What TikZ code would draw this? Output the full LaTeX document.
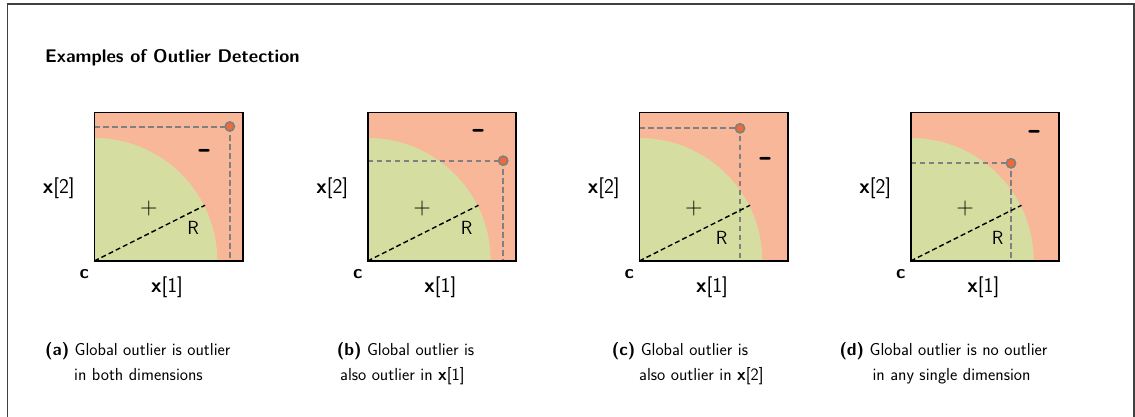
\documentclass[tikz,border=0pt]{standalone}
\usepackage{fontspec}
\renewcommand{\familydefault}{\sfdefault}
\definecolor{outred}{RGB}{249,183,153}
\definecolor{ingreen}{RGB}{213,222,160}
\definecolor{ptorange}{RGB}{240,105,55}
\definecolor{dashgray}{RGB}{128,128,128}
\tikzset{
  frameline/.style={draw=black!75,line width=1.1pt},
  panelbox/.style={draw=black,line width=1.6pt},
  guide/.style={draw=dashgray,line width=2pt,dash pattern=on 5.5pt off 3.5pt},
  radline/.style={draw=black,line width=1.4pt,dash pattern=on 5pt off 3pt},
  outpt/.style={circle,fill=ptorange,draw=dashgray,line width=1.5pt,inner sep=0pt,minimum size=9pt},
  axlab/.style={font=\fontsize{21}{24}\selectfont,inner sep=0pt},
  clab/.style={font=\fontsize{19}{22}\selectfont\bfseries,inner sep=0pt},
  pluslab/.style={font=\fontsize{24}{26}\selectfont,inner sep=0pt},
  rlab/.style={font=\fontsize{19}{22}\selectfont,inner sep=0pt},
  minuslab/.style={font=\fontsize{38}{38}\selectfont\bfseries,inner sep=0pt},
  captxt/.style={font=\fontsize{17.4}{20}\selectfont,inner sep=0pt,anchor=base west},
  titletxt/.style={font=\fontsize{18.3}{22}\selectfont\bfseries,inner sep=0pt,anchor=base west}
}
% #1 suffix, #2 x0, #3 px, #4 py, #5 minus x, #6 minus y, #7 R x, #8 R y
\newcommand{\outlierpanel}[8]{%
\begin{scope}[shift={(#2,155)}]
  \fill[outred] (0,0) rectangle (148.5,148.5);
  \fill[ingreen] (0,0) -- (123,0) arc[start angle=0,end angle=90,radius=123pt] -- cycle;
  \coordinate (corner#1) at (0,0);
  \coordinate (rend#1) at (26.7:124pt);
  \coordinate (hstart#1) at (0,#4);
  \coordinate (vend#1) at (#3,0);
  \node[outpt] (pt#1) at (#3,#4) {};
  \draw[guide] (hstart#1) -- (pt#1.center) -- (vend#1);
  \node[outpt] at (pt#1) {};
  \draw[radline] (corner#1) -- (rend#1);
  \draw[panelbox] (0,0) rectangle (148.5,148.5);
  \node[minuslab] (minus#1) at (#5,#6) {-};
  \node[pluslab] (plus#1) at (54.5,52) {+};
  \node[rlab] (r#1) at (#7,#8) {R};
  \node[axlab] (xtwo#1) at (-35.5,73) {\textbf{x}[2]};
  \node[axlab] (xone#1) at (72.7,-26) {\textbf{x}[1]};
  \node[clab] (c#1) at (-10,-13) {c};
\end{scope}}
\begin{document}
\begin{tikzpicture}[x=1pt,y=1pt]
\useasboundingbox (0,0) rectangle (1135,416);
\draw[frameline] (7.3,-2) -- (7.3,412) -- (1134,412) -- (1134,-2);
\node[titletxt] (title) at (45,353) {Examples of Outlier Detection};
\outlierpanel{a}{94.3}{135.5}{134.5}{110.7}{107}{98.8}{33}
\outlierpanel{b}{367.7}{135.5}{100.3}{111.3}{127}{99}{33}
\outlierpanel{c}{639.3}{100.7}{132.7}{127.4}{98.7}{82.4}{23.3}
\outlierpanel{d}{910.7}{100.3}{97.7}{124.3}{125.7}{87}{23.3}
\node[captxt] (capa1) at (45,61) {\textbf{(a)} Global outlier is outlier};
\node[captxt] (capa2) at (74,36) {in both dimensions};
\node[captxt] (capb1) at (336.7,61) {\textbf{(b)} Global outlier is};
\node[captxt] (capb2) at (340,36) {also outlier in \textbf{x}[1]};
\node[captxt] (capc1) at (611.7,61) {\textbf{(c)} Global outlier is};
\node[captxt] (capc2) at (639,36) {also outlier in \textbf{x}[2]};
\node[captxt] (capd1) at (839.3,61) {\textbf{(d)} Global outlier is no outlier};
\node[captxt] (capd2) at (872.3,36) {in any single dimension};
\end{tikzpicture}
\end{document}
